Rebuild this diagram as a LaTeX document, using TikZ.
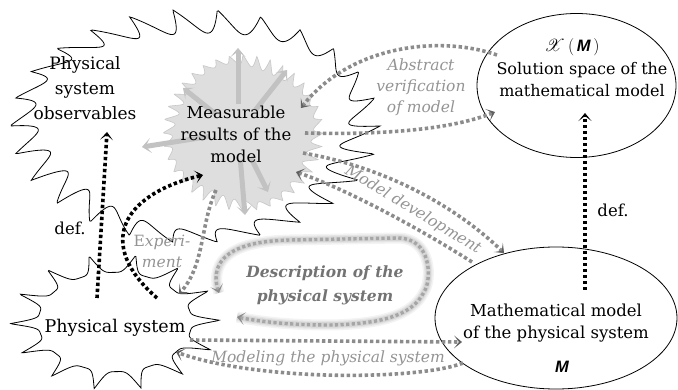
\documentclass[tikz,border=0pt]{standalone}
\usepackage{fontspec}
\setmainfont{DejaVu Serif}
\newfontfamily\msans{Liberation Sans}
\usepackage{mathrsfs}
\usetikzlibrary{arrows.meta}
\begin{document}
\begin{tikzpicture}[x=1pt,y=-1pt,
 declare function={
  sa(\t)=abs(sin(13*\t));
  ra(\t)=1-(0.16+0.05*sin(3*\t+30))*sa(\t);
  sb(\t)=abs(sin(18*\t));
  rbb(\t)=1-(0.13+0.04*sin(4*\t))*sb(\t);
  sc(\t)=abs(sin(7*\t+10));
  rc(\t)=1-0.27*sc(\t)*(2-sc(\t));
 },
 outl/.style={line width=0.8pt, draw=black, fill=white},
 lbl/.style={font=\fontsize{16.5}{22}\selectfont, align=center, text=black},
 glbl/.style={font=\fontsize{15.5}{21}\selectfont\itshape, align=center, text=black!42},
 bdot/.style={line width=3.6pt, dash pattern=on 3.4pt off 2.6pt, draw=black},
 gdot/.style={line width=3.6pt, dash pattern=on 3.4pt off 2.6pt, draw=black!45},
 ldot/.style={line width=3.4pt, dash pattern=on 3.2pt off 2.4pt, draw=black!35},
 btip/.style={-{Stealth[length=8pt,width=13pt,inset=5pt,color=black]}},
 gtip/.style={-{Stealth[length=8pt,width=13pt,inset=5pt,color=black!62]}},
 gtips/.style={{Stealth[length=8pt,width=13pt,inset=5pt,color=black!45]}-{Stealth[length=8pt,width=13pt,inset=5pt,color=black!45]}},
 ray/.style={line width=5pt, draw=black!24, shorten <=28pt, -{Stealth[length=9pt,width=15pt,inset=5.5pt,color=black!24]}},
]
\useasboundingbox (0,0) rectangle (678,390);

% big cloud of observables
\draw[outl] plot[variable=\t, domain=0:360, samples=800]
 ({195+185*ra(\t)*cos(\t+5*sa(\t))}, {126+117*ra(\t)*sin(\t+5*sa(\t))}) -- cycle;

% measurable results blob
\draw[line width=0.6pt, draw=black!22, fill=black!13] plot[variable=\t, domain=0:360, samples=900]
 ({243+80*rbb(\t)*cos(\t+2*sb(\t))}, {133+78*rbb(\t)*sin(\t+2*sb(\t))}) -- cycle;
\coordinate (mc) at (238,132);
\foreach \x/\y [count=\i] in {238/48, 287/70, 183/88, 142/147, 245/215, 268/192}
  \coordinate (r\i) at (\x,\y);
\foreach \i in {1,...,6} \draw[ray] (mc) -- (r\i);

% physical system cloud
\draw[outl] plot[variable=\t, domain=0:360, samples=700]
 ({115+105*rc(\t)*cos(\t)}, {322+68*rc(\t)*sin(\t)}) -- cycle;

% ellipses
\draw[line width=0.8pt] (576.5,85.5) ellipse [x radius=99.5pt, y radius=72pt];
\draw[line width=0.8pt] (556,318) ellipse [x radius=121pt, y radius=71pt];

% text nodes
\node[lbl, font=\fontsize{17}{25}\selectfont] (obs) at (85,88) {Physical\\system\\observables};
\node[lbl] (meas) at (236,134) {Measurable\\results of the\\model};
\node[lbl] (xm) at (572,47) {$\mathscr{X}\,($\,{\msans\bfseries\itshape M}\,$)$};
\node[lbl, font=\fontsize{16}{22}\selectfont] (sol) at (582,80) {Solution space of the\\mathematical model};
\node[lbl] (math) at (556,323) {Mathematical model\\of the physical system};
\node[lbl] (mm) at (562,367) {\msans\bfseries\itshape M};
\node[lbl, font=\fontsize{17.5}{22}\selectfont] (phys) at (115,328) {Physical system};
\node[lbl] (defl) at (70,228) {def.};
\node[lbl] (defr) at (613,210) {def.};

% description loop with glow
\coordinate (d1) at (219,293);
\coordinate (d2) at (237,317);
\foreach \w/\o in {11/0.12, 8/0.15, 5.5/0.2}
 \draw[line width=\w pt, black!40, opacity=\o, line join=round]
  (d1) .. controls (208,258) and (235,241) .. (290,240) -- (398,238)
  .. controls (432,238) and (432,280) .. (424,292)
  .. controls (412,316) and (380,324) .. (330,325)
  .. controls (290,325) and (262,322) .. (d2);
\draw[ldot, gtips] (d1) .. controls (208,258) and (235,241) .. (290,240) -- (398,238)
  .. controls (432,238) and (432,280) .. (424,292)
  .. controls (412,316) and (380,324) .. (330,325)
  .. controls (290,325) and (262,322) .. (d2);
\node[font=\fontsize{15.5}{24}\selectfont\bfseries\itshape, align=center, text=black!55]
  (desc) at (325,285) {Description of the\\physical system};

% def arrows
\coordinate (dl1) at (97,298);
\coordinate (dl2) at (107,132);
\draw[bdot, btip] (dl1) -- (dl2);
\coordinate (dr1) at (585,290);
\coordinate (dr2) at (585,113);
\draw[bdot, btip] (dr1) -- (dr2);

% experiment
\coordinate (e1) at (157,298);
\coordinate (e2) at (203,175);
\draw[bdot, btip] (e1) .. controls (96,245) and (120,195) .. (e2);
\node[glbl] (exp) at (162,251) {{\upshape E}xperi-\\ment};

% gray from measurable results to physical system
\coordinate (g1) at (216,190);
\coordinate (g2) at (179,294);
\draw[gdot, gtip] (g1) .. controls (200,225) and (205,265) .. (g2);

% abstract verification
\coordinate (a1) at (497,55);
\coordinate (a2) at (301,108);
\draw[gdot, gtip] (a1) .. controls (440,35) and (350,45) .. (a2);
\coordinate (a3) at (305,133);
\coordinate (a4) at (495,112);
\draw[gdot, gtip] (a3) .. controls (380,135) and (450,130) .. (a4);
\node[glbl] (abs) at (421,87) {Abstract\\verification\\of model};

% model development
\coordinate (m1) at (303,153);
\coordinate (m2) at (504,253);
\draw[gdot, gtip] (m1) .. controls (390,168) and (460,210) .. (m2);
\coordinate (m3) at (472,262);
\coordinate (m4) at (296,172);
\draw[gdot, gtip] (m3) .. controls (430,235) and (350,190) .. (m4);
\node[glbl, rotate=-31] (mdev) at (413,210) {Model development};

% modeling the physical system
\coordinate (p1) at (190,340);
\coordinate (p2) at (462,342);
\draw[gdot, gtip] (p1) -- (p2);
\coordinate (p3) at (463,363);
\coordinate (p4) at (176,352);
\draw[gdot, gtip] (p3) .. controls (420,380) and (260,382) .. (p4);
\node[glbl] (mod) at (328,358) {Modeling the physical system};
\end{tikzpicture}
\end{document}
